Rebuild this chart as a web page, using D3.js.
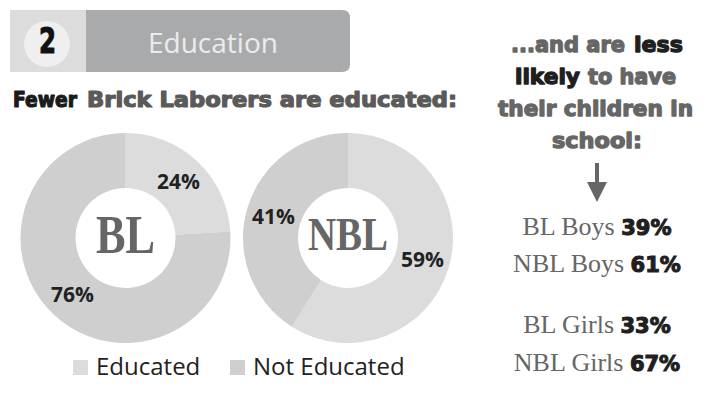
<!DOCTYPE html>
<html>
<head>
<meta charset="utf-8">
<script src="https://cdn.jsdelivr.net/npm/d3@7"></script>
<style>
  html, body { margin: 0; padding: 0; background: #fff; }
  svg { display: block; }
</style>
</head>
<body>
<svg id="chart" width="712" height="403"></svg>
<script>
// Share of each group that is educated / not educated
const groups = ["BL", "NBL"];
const educated = [24, 59];
const notEducated = [76, 41];
const categories = ["Educated", "Not Educated"];
const categoryColors = ["#dcdcdc", "#cfcfcf"];

// Children in school, by group
const childLabels = ["BL Boys", "NBL Boys", "BL Girls", "NBL Girls"];
const childValues = [39, 61, 33, 67];

const heavy = "'DejaVu Sans', sans-serif";
const svg = d3.select("#chart");

// Heavy display text: bold face thickened with a matching outline
function heavyText(parent, str, x, y, len, size, color, sw = 1.1) {
  return parent.append("text").attr("x", x).attr("y", y)
    .attr("textLength", len).attr("lengthAdjust", "spacingAndGlyphs")
    .style("font-family", heavy).style("font-weight", 700).style("font-size", size + "px")
    .attr("fill", color).attr("stroke", color).attr("stroke-width", sw).attr("stroke-linejoin", "round")
    .text(str);
}

// ---- Section header ----
const header = svg.append("g");
header.append("path")
  .attr("d", "M86,10 H342 Q350,10 350,18 V64 Q350,72 342,72 H86 Z")
  .attr("fill", "#a9aaac");
header.append("rect").attr("x", 10).attr("y", 10).attr("width", 76).attr("height", 62).attr("fill", "#dcdcdd");
header.append("circle").attr("cx", 47).attr("cy", 44).attr("r", 23).attr("fill", "#efefef");
heavyText(header, "2", 39, 53, 17, 35, "#111", 1.2);
header.append("text").attr("x", 148).attr("y", 53)
  .style("font-family", "'Open Sans', sans-serif").style("font-size", "28px").attr("fill", "#ececec")
  .text("Education");

// ---- Subtitle ----
heavyText(svg, "Fewer", 13, 107, 64, 21, "#1a1a1a", 1.2);
heavyText(svg, "Brick Laborers are educated:", 87, 107, 370, 21, "#5a5a5a", 1.2);

// ---- Donuts ----
const x = d3.scalePoint().domain(groups).range([125.5, 348]);
const cy = 238;
const outerR = 105, innerR = 50;
const pie = d3.pie().sort(null).startAngle(0).endAngle(2 * Math.PI);
const arc = d3.arc().innerRadius(innerR).outerRadius(outerR);
const color = d3.scaleOrdinal().domain(categories).range(categoryColors);

groups.forEach((g, i) => {
  const values = [educated[i], notEducated[i]];
  const slices = pie(values).map((s, k) => Object.assign(s, { cat: categories[k] }));
  const gg = svg.append("g").attr("transform", `translate(${x(g)},${cy})`);
  gg.selectAll("path").data(slices).join("path")
    .attr("d", arc)
    .attr("fill", d => color(d.cat));
  gg.selectAll("text.pct").data(slices).join("text")
    .attr("class", "pct")
    .attr("transform", d => `translate(${arc.centroid(d)})`)
    .attr("text-anchor", "middle").attr("dy", "0.36em")
    .style("font-family", "'Open Sans', sans-serif").style("font-weight", 700).style("font-size", "21px")
    .attr("fill", "#222")
    .text(d => d.value + "%");
  gg.append("text")
    .attr("text-anchor", "middle")
    .attr("y", g === "BL" ? 15 : 12)
    .attr("textLength", g === "BL" ? 59 : 80)
    .attr("lengthAdjust", "spacingAndGlyphs")
    .style("font-family", "'Liberation Serif', serif").style("font-weight", 700)
    .style("font-size", g === "BL" ? "54px" : "46px")
    .attr("fill", "#666")
    .text(g);
});

// ---- Legend ----
const legendX = [73, 230];
const legend = svg.append("g");
categories.forEach((c, k) => {
  legend.append("rect").attr("x", legendX[k]).attr("y", 360).attr("width", 15).attr("height", 15)
    .attr("fill", color(c));
  legend.append("text").attr("x", legendX[k] + 23).attr("y", 375)
    .style("font-family", "'Open Sans', sans-serif").style("font-size", "24px").attr("fill", "#222")
    .text(c);
});

// ---- Right-hand note (each run: text, left x, width, colour) ----
const noteLines = [
  [["...and are", 511, 114, "#666"], ["less", 634, 49, "#1f1f1f"]],
  [["likely", 515, 65, "#1f1f1f"], ["to have", 588, 88, "#666"]],
  [["their children in", 498, 195, "#666"]],
  [["school:", 552, 90, "#666"]]
];
const note = svg.append("g");
noteLines.forEach((runs, j) => {
  runs.forEach(([s, lx, w, c]) => heavyText(note, s, lx, 52 + j * 32, w, 21, c, 1.3));
});

// Down arrow
const noteX = 597;
svg.append("path")
  .attr("d", `M${noteX - 2},163 H${noteX + 2} V182 H${noteX + 10} L${noteX},202 L${noteX - 10},182 H${noteX - 2} Z`)
  .attr("fill", "#666");

// Children-in-school figures
const rowY = [235, 272, 333, 371];
childLabels.forEach((lab, i) => {
  const t = svg.append("text").attr("x", noteX).attr("y", rowY[i]).attr("text-anchor", "middle");
  t.append("tspan").style("font-family", "'Liberation Serif', serif").style("font-size", "26px")
    .attr("fill", "#666").text(lab + " ");
  t.append("tspan").style("font-family", heavy).style("font-weight", 700).style("font-size", "21px")
    .attr("fill", "#1f1f1f").attr("stroke", "#1f1f1f").attr("stroke-width", 1.1)
    .text(childValues[i] + "%");
});
</script>
</body>
</html>
